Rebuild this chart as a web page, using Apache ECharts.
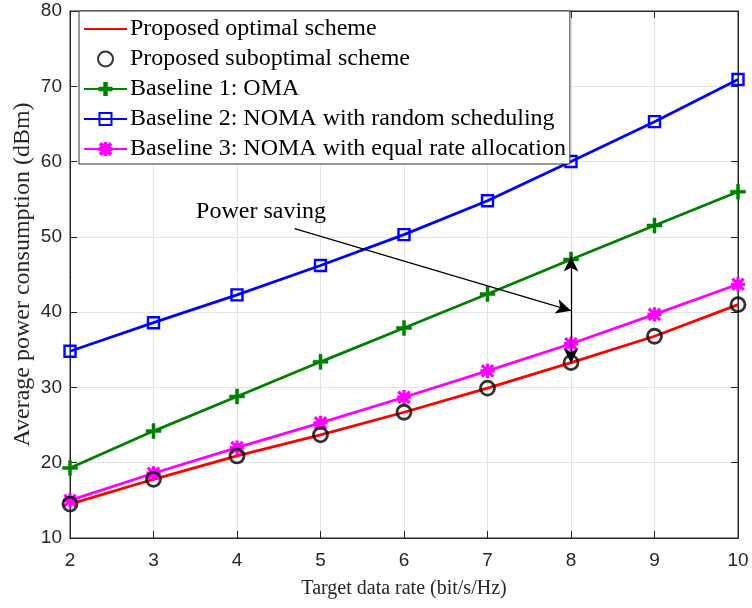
<!DOCTYPE html>
<html>
<head>
<meta charset="utf-8">
<script src="https://cdn.jsdelivr.net/npm/echarts@6/dist/echarts.min.js"></script>
<style>
  html, body { margin: 0; padding: 0; background: #fff; }
  #chart { width: 752px; height: 608px; }
</style>
</head>
<body>
<div id="chart"></div>
<script>
// Target data rate (bit/s/Hz)
const rates = [2, 3, 4, 5, 6, 7, 8, 9, 10];
// Average power consumption (dBm) per scheme
const optimal    = [14.5, 17.8, 20.9, 23.7, 26.7, 29.9, 33.3, 36.8, 41.0];
const suboptimal = [14.5, 17.8, 20.9, 23.7, 26.7, 29.9, 33.3, 36.8, 41.0];
const oma        = [19.3, 24.2, 28.8, 33.4, 37.9, 42.4, 47.0, 51.5, 56.0];
const randomSch  = [34.8, 38.6, 42.3, 46.2, 50.3, 54.8, 60.0, 65.3, 70.9];
const equalRate  = [15.0, 18.6, 22.0, 25.3, 28.7, 32.2, 35.8, 39.7, 43.7];
// Tick values
const xTicks = [2, 3, 4, 5, 6, 7, 8, 9, 10];
const yTicks = [10, 20, 30, 40, 50, 60, 70, 80];
// Power-saving annotation (data coordinates)
const captionAt   = [3.51, 53.35];
const pointerFrom = [4.69, 51.1];
const gapMid      = [8, 40.2];
const gapTop      = [8, 47.4];
const gapBottom   = [8, 33.2];

const serif = '"Liberation Serif", "Times New Roman", serif';
const sans = '"Liberation Sans", Arial, sans-serif';
const axisColor = '#262626';

const pairs = (ys) => rates.map((x, i) => [x, ys[i]]);

const plusPath = 'path://M4,0H6V4H10V6H6V10H4V6H0V4H4Z';
const starPath = 'path://M4.2,0H5.8V10H4.2Z M0,4.2H10V5.8H0Z M0.4,1.5L1.5,0.4L9.6,8.5L8.5,9.6Z M8.5,0.4L9.6,1.5L1.5,9.6L0.4,8.5Z';

const chart = echarts.init(document.getElementById('chart'), null, { renderer: 'canvas' });

const edgeAxis = {
  axisLine: { show: true, lineStyle: { color: axisColor, width: 1 } },
  axisTick: { show: true, inside: true, length: 7, lineStyle: { color: axisColor } },
  axisLabel: { show: false }, splitLine: { show: false }
};

chart.setOption({
  animation: false,
  backgroundColor: '#fff',
  grid: {
    left: 70, right: 14, top: 11, bottom: 70,
    outerBoundsMode: 'none', containLabel: false,
    show: true, borderColor: axisColor, borderWidth: 1
  },
  xAxis: [
    {
      type: 'value', min: xTicks[0], max: xTicks[xTicks.length - 1], interval: 1,
      name: 'Target data rate (bit/s/Hz)', nameLocation: 'middle', nameGap: 41,
      nameMoveOverlap: false,
      nameTextStyle: { fontFamily: serif, fontSize: 20, color: axisColor },
      axisLine: { show: true, lineStyle: { color: axisColor, width: 1 } },
      axisTick: { show: true, inside: true, length: 7, lineStyle: { color: axisColor } },
      axisLabel: { fontFamily: sans, fontSize: 19, color: axisColor, margin: 13 },
      splitLine: { show: true, lineStyle: { color: '#e3e3e3', width: 1 } }
    },
    Object.assign({ type: 'value', min: xTicks[0], max: xTicks[xTicks.length - 1], interval: 1, position: 'top' }, edgeAxis)
  ],
  yAxis: [
    {
      type: 'value', min: yTicks[0], max: yTicks[yTicks.length - 1], interval: 10,
      name: 'Average power consumption (dBm)', nameLocation: 'middle', nameGap: 35,
      nameMoveOverlap: false,
      nameTextStyle: { fontFamily: serif, fontSize: 24, color: axisColor },
      axisLine: { show: true, lineStyle: { color: axisColor, width: 1 } },
      axisTick: { show: true, inside: true, length: 7, lineStyle: { color: axisColor } },
      axisLabel: { fontFamily: sans, fontSize: 19, color: axisColor, margin: 8 },
      splitLine: { show: true, lineStyle: { color: '#e3e3e3', width: 1 } }
    },
    Object.assign({ type: 'value', min: yTicks[0], max: yTicks[yTicks.length - 1], interval: 10, position: 'right' }, edgeAxis)
  ],
  legend: {
    orient: 'vertical', left: 79, top: 11,
    backgroundColor: '#fff', borderColor: '#333', borderWidth: 1,
    padding: [6, 4, 3, 4], itemGap: 6, itemWidth: 43, itemHeight: 15,
    textStyle: { fontFamily: serif, fontSize: 24, color: '#000', lineHeight: 24, padding: [0, 0, 0, -2] },
    data: [
      { name: 'Proposed optimal scheme', itemStyle: { opacity: 0 } },
      'Proposed suboptimal scheme',
      'Baseline 1: OMA',
      'Baseline 2: NOMA with random scheduling',
      'Baseline 3: NOMA with equal rate allocation'
    ]
  },
  series: [
    {
      name: 'Proposed optimal scheme', type: 'line', data: pairs(optimal),
      symbol: 'circle', showSymbol: false, color: '#ff0000',
      lineStyle: { color: '#ff0000', width: 2.8 }, z: 2
    },
    {
      name: 'Proposed suboptimal scheme', type: 'scatter', data: pairs(suboptimal),
      symbol: 'circle', symbolSize: 14, color: '#000',
      itemStyle: { color: 'rgba(0,0,0,0)', borderColor: '#000', borderWidth: 2.8 }, z: 3
    },
    {
      name: 'Baseline 1: OMA', type: 'line', data: pairs(oma),
      symbol: plusPath, symbolSize: 15, color: '#008000',
      lineStyle: { color: '#008000', width: 2.8 },
      itemStyle: { color: '#008000', borderColor: '#008000', borderWidth: 0.5 }, z: 2
    },
    {
      name: 'Baseline 2: NOMA with random scheduling', type: 'line', data: pairs(randomSch),
      symbol: 'rect', symbolSize: 11, color: '#0000ff',
      lineStyle: { color: '#0000ff', width: 2.8 },
      itemStyle: { color: 'rgba(0,0,0,0)', borderColor: '#0000ff', borderWidth: 2.4 }, z: 2
    },
    {
      name: 'Baseline 3: NOMA with equal rate allocation', type: 'line', data: pairs(equalRate),
      symbol: starPath, symbolSize: 13, color: '#ff00ff',
      lineStyle: { color: '#ff00ff', width: 2.8 },
      itemStyle: { color: '#ff00ff', borderColor: '#ff00ff', borderWidth: 1.2 }, z: 2
    },
    {
      // power-saving arrows and caption
      type: 'line', data: [], silent: true, z: 5,
      markLine: {
        silent: true,
        symbol: ['none', 'arrow'], symbolSize: [11, 15],
        lineStyle: { color: '#000', width: 1.3, type: 'solid' },
        label: { show: false },
        data: [
          [ { coord: pointerFrom, symbol: 'none' }, { coord: gapMid, symbol: 'arrow' } ],
          [ { coord: gapMid, symbol: 'none' }, { coord: gapTop, symbol: 'arrow' } ],
          [ { coord: gapMid, symbol: 'none' }, { coord: gapBottom, symbol: 'arrow' } ]
        ]
      },
      markPoint: {
        silent: true, symbol: 'circle', symbolSize: 0,
        data: [ { coord: captionAt, value: 0 } ],
        label: {
          show: true, position: 'right', distance: 0,
          formatter: 'Power saving',
          fontFamily: serif, fontSize: 24, color: '#000'
        }
      }
    }
  ]
});
</script>
</body>
</html>
